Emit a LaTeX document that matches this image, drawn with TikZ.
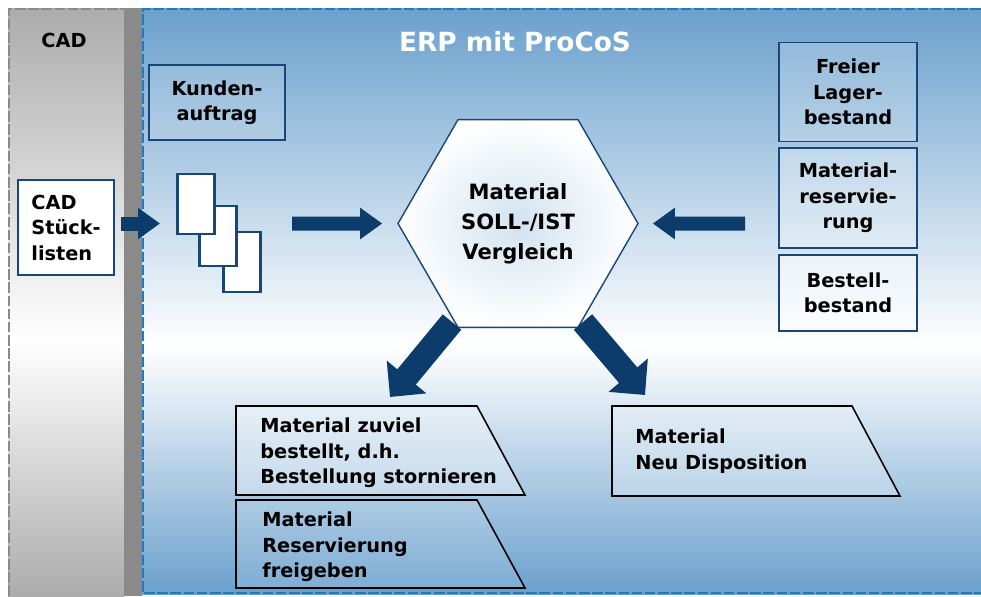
\documentclass[tikz,border=0pt]{standalone}
\usepackage{fontspec}
\setmainfont{DejaVu Sans}
\usetikzlibrary{shapes.geometric,arrows.meta}

\definecolor{erpblue}{RGB}{106,160,205}
\definecolor{cadgray}{RGB}{172,172,172}
\definecolor{bargray}{RGB}{138,138,138}
\definecolor{arrownavy}{RGB}{12,60,108}
\definecolor{boxline}{RGB}{25,70,120}
\definecolor{dashblue}{RGB}{35,120,190}

\begin{document}
\begin{tikzpicture}[x=0.02cm, y=-0.02cm,
        every node/.style={font=\fontsize{11}{14.5}\selectfont\bfseries},
        infobox/.style={draw=boxline, line width=0.8pt, fill=white, fill opacity=0.2,
            text opacity=1, align=center, inner sep=0pt},
        docsheet/.style={draw=boxline, line width=1.3pt, fill=white,
            minimum width=0.74cm, minimum height=1.2cm, inner sep=0pt},
        hexbox/.style={regular polygon, regular polygon sides=6, minimum size=4.8cm,
            inner sep=0pt, draw=boxline, line width=0.8pt,
            inner color=erpblue!30, outer color=white, align=center,
            font=\fontsize{12}{17}\selectfont\bfseries},
        resultbox/.style={draw=black, line width=0.9pt, fill=white, fill opacity=0.25},
        resulttext/.style={align=left, anchor=west, inner sep=0pt},
        paneldash/.style={dashed, dash pattern=on 6pt off 1.5pt},
        blockarrow/.style={arrownavy, line width=0.28cm, -{Triangle[length=0.44cm,width=0.6cm]}},
        bigarrow/.style={arrownavy, line width=0.48cm, -{Triangle[length=0.52cm,width=1cm]}}]

    \useasboundingbox (0,0) rectangle (981,596);

    % Draw CAD panel
    % Fill with a gray to white to gray gradient
    \shade[top color=cadgray, bottom color=white] (8,8) rectangle (124,341);
    \shade[top color=white, bottom color=cadgray] (8,340) rectangle (124,596);
    \draw[bargray, paneldash, line width=1.2pt] (9,596) -- (9,9) -- (124,9);
    \fill[bargray] (124,8) rectangle (142,596);
    \node (cad) at (64,40) {CAD};

    % Draw ERP panel
    % Fill with a blue to white to blue gradient
    \shade[top color=erpblue, bottom color=white] (142,8) rectangle (981,346);
    \shade[top color=white, bottom color=erpblue] (142,345) rectangle (981,594);
    \draw[dashblue, paneldash, line width=1.4pt] (981,9) -- (143,9) -- (143,593) -- (981,593);
    \node[white, font=\fontsize{15}{18}\selectfont\bfseries] (erp) at (515,42) {ERP mit ProCoS};

    % Draw input boxes
    \node[infobox, fill opacity=0.15, minimum width=2.72cm, minimum height=1.5cm] (kunde) at (217,102.5) {Kunden-\\auftrag};
    \node[infobox, fill opacity=1, align=left, minimum width=1.92cm, minimum height=1.9cm] (cadsl) at (66,227.5) {CAD\\Stück-\\listen};

    % Draw the stacked documents
    \foreach \i/\x/\y in {3/242/262, 2/218/236, 1/196/204}
        \node[docsheet] (doc\i) at (\x,\y) {};

    % Draw stock boxes on the right
    \node[infobox, minimum width=2.76cm, minimum height=1.98cm] (freier) at (848,92) {Freier\\Lager-\\bestand};
    \node[infobox, fill opacity=0.3, minimum width=2.76cm, minimum height=2cm] (matres) at (848,198) {Material-\\reservie-\\rung};
    \node[infobox, fill opacity=0.5, minimum width=2.76cm, minimum height=1.52cm] (bestell) at (848,293) {Bestell-\\bestand};

    % Draw the comparison hexagon
    \node[hexbox] (hex) at (518,223.5) {Material\\SOLL-/IST\\Vergleich};

    % Draw result boxes
    \draw[resultbox, fill opacity=0.35] (236,406) -- (477,406) -- (525,495) -- (236,495) -- cycle;
    \node[resulttext] (zuviel) at (260,453) {Material zuviel\\bestellt, d.h.\\Bestellung stornieren};

    \draw[resultbox, fill opacity=0.12] (236,500) -- (477,500) -- (525,588) -- (236,588) -- cycle;
    \node[resulttext] (freigabe) at (262,547) {Material\\Reservierung\\freigeben};

    \draw[resultbox] (612,406) -- (852,406) -- (900,496) -- (612,496) -- cycle;
    \node[resulttext] (neudispo) at (635,451) {Material\\Neu Disposition};

    % arrows into the comparison
    \coordinate (a1e) at (160,223.5);
    \coordinate (a2s) at (292,223.5);
    \coordinate (a3s) at (745,223.5);
    \draw[blockarrow, shorten <=0.12cm] (cadsl.east |- a1e) -- (a1e);
    \draw[blockarrow, shorten >=0.3cm] (a2s) -- (hex.west);
    \draw[blockarrow, shorten >=0.28cm] (a3s) -- (hex.east);

    % arrows out of the comparison
    \coordinate (a4s) at (452,322);
    \coordinate (a4e) at (390,397);
    \coordinate (a5s) at (583,322);
    \coordinate (a5e) at (645,395);
    \draw[bigarrow] (a4s) -- (a4e);
    \draw[bigarrow] (a5s) -- (a5e);
\end{tikzpicture}
\end{document}
